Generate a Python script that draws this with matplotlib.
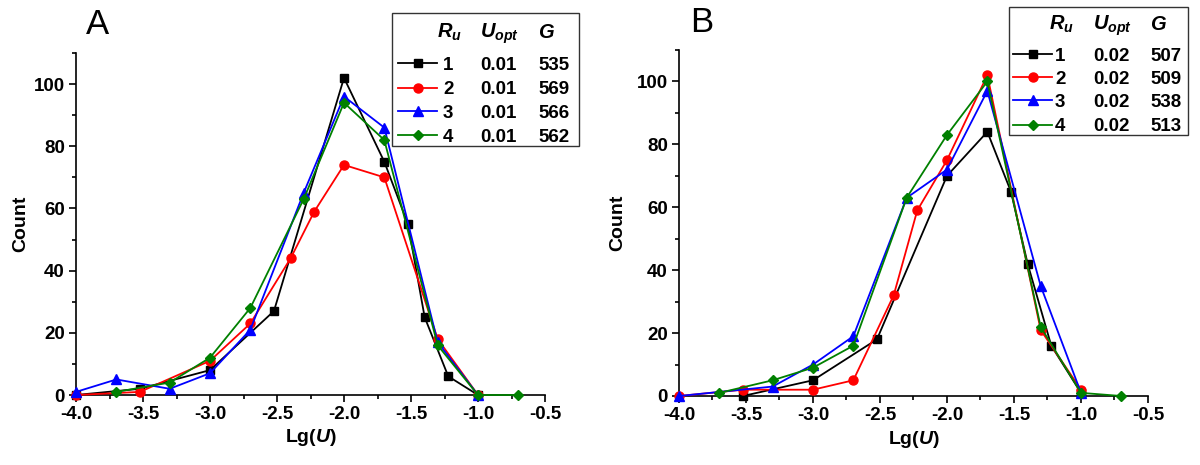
import numpy as np
import matplotlib
matplotlib.use('Agg')
import matplotlib.pyplot as plt
from matplotlib.lines import Line2D
from matplotlib.patches import Rectangle
from matplotlib.ticker import MultipleLocator

plt.rcParams['font.family'] = ['Liberation Sans', 'DejaVu Sans']
plt.rcParams['font.weight'] = 'bold'
plt.rcParams['axes.labelweight'] = 'bold'
plt.rcParams['mathtext.fontset'] = 'custom'
plt.rcParams['mathtext.it'] = 'Liberation Sans:italic:bold'
plt.rcParams['mathtext.rm'] = 'Liberation Sans:bold'
plt.rcParams['mathtext.bf'] = 'Liberation Sans:bold'

# panel A: U values and counts per run
a_u1 = [1e-4, 3e-4, 1e-3, 3e-3, 1e-2, 2e-2, 3e-2, 4e-2, 6e-2, 1e-1]
a_c1 = [0, 2, 8, 27, 102, 75, 55, 25, 6, 0]
a_u2 = [1e-4, 3e-4, 1e-3, 2e-3, 4e-3, 6e-3, 1e-2, 2e-2, 5e-2, 1e-1]
a_c2 = [0, 1, 11, 23, 44, 59, 74, 70, 18, 0]
a_u3 = [1e-4, 2e-4, 5e-4, 1e-3, 2e-3, 5e-3, 1e-2, 2e-2, 5e-2, 1e-1]
a_c3 = [1, 5, 2, 7, 21, 65, 96, 86, 17, 0]
a_u4 = [2e-4, 5e-4, 1e-3, 2e-3, 5e-3, 1e-2, 2e-2, 5e-2, 1e-1, 2e-1]
a_c4 = [1, 4, 12, 28, 63, 94, 82, 16, 0, 0]

# panel B
b_u1 = [3e-4, 1e-3, 3e-3, 1e-2, 2e-2, 3e-2, 4e-2, 6e-2, 1e-1]
b_c1 = [0, 5, 18, 70, 84, 65, 42, 16, 1]
b_u2 = [1e-4, 3e-4, 1e-3, 2e-3, 4e-3, 6e-3, 1e-2, 2e-2, 5e-2, 1e-1]
b_c2 = [0, 2, 2, 5, 32, 59, 75, 102, 21, 2]
b_u3 = [1e-4, 5e-4, 1e-3, 2e-3, 5e-3, 1e-2, 2e-2, 5e-2, 1e-1]
b_c3 = [0, 3, 10, 19, 63, 72, 97, 35, 1]
b_u4 = [2e-4, 5e-4, 1e-3, 2e-3, 5e-3, 1e-2, 2e-2, 5e-2, 1e-1, 2e-1]
b_c4 = [1, 5, 9, 16, 63, 83, 100, 22, 1, 0]

runs = ['1', '2', '3', '4']
a_uopt = ['0.01', '0.01', '0.01', '0.01']
a_g = ['535', '569', '566', '562']
b_uopt = ['0.02', '0.02', '0.02', '0.02']
b_g = ['507', '509', '538', '513']

colors = ['black', '#ff0000', '#0000ff', '#008000']
markers = ['s', 'o', '^', 'D']
msizes = [5.5, 6.5, 6.5, 5.5]

W, H = 1200, 465
fig = plt.figure(figsize=(W / 100, H / 100), dpi=100)


def fx(x):
    return x / W


def fy(y):
    return 1 - y / H


def setup(ax, ylab_x):
    ax.set_xlim(-4.0, -0.5)
    ax.set_ylim(0, 110)
    ax.spines['top'].set_visible(False)
    ax.spines['right'].set_visible(False)
    for s in ('left', 'bottom'):
        ax.spines[s].set_linewidth(1.2)
    ax.xaxis.set_major_locator(MultipleLocator(0.5))
    ax.xaxis.set_minor_locator(MultipleLocator(0.25))
    ax.yaxis.set_major_locator(MultipleLocator(20))
    ax.yaxis.set_minor_locator(MultipleLocator(10))
    ax.tick_params(which='major', direction='out', length=5, width=1.2, labelsize=13.5, pad=3)
    ax.tick_params(which='minor', direction='out', length=3, width=1.2)
    ax.xaxis.set_major_formatter(plt.FuncFormatter(lambda v, p: f'{v:.1f}'))
    ax.set_xlabel('Lg($U$)', fontsize=14, fontweight='bold')
    ax.set_ylabel('Count', fontsize=14, fontweight='bold')
    ax.xaxis.set_label_coords(0.5, -0.095)
    ax.yaxis.set_label_coords(ylab_x, 0.5)


def draw_key(box, hx, tx, head_y, rows_y, uopt, g):
    x0, y0, x1, y1 = box
    fig.add_artist(Rectangle((fx(x0), fy(y1)), fx(x1 - x0), (y1 - y0) / H,
                             transform=fig.transFigure, fill=False,
                             edgecolor='#333333', linewidth=1.0))
    fig.text(fx(tx[0] - 1), fy(head_y), '$R_u$', fontsize=14.5, va='baseline')
    fig.text(fx(tx[1]), fy(head_y), '$U_{opt}$', fontsize=14.5, va='baseline')
    fig.text(fx(tx[2]), fy(head_y), '$G$', fontsize=14.5, va='baseline')
    for i in range(4):
        yb = rows_y[i]
        ym = yb - 6.5
        fig.add_artist(Line2D([fx(hx[0]), fx((hx[0] + hx[1]) / 2), fx(hx[1])],
                              [fy(ym)] * 3, transform=fig.transFigure,
                              color=colors[i], lw=1.3, marker=markers[i],
                              markersize=msizes[i], markevery=[1]))
        fig.text(fx(tx[0] + 5), fy(yb), runs[i], fontsize=13.5, va='baseline')
        fig.text(fx(tx[1]), fy(yb), uopt[i], fontsize=13.5, va='baseline')
        fig.text(fx(tx[2]), fy(yb), g[i], fontsize=13.5, va='baseline')


axA = fig.add_axes([fx(76), fy(395), fx(545 - 76), (395 - 53) / H])
axB = fig.add_axes([fx(679), fy(396), fx(1148 - 679), (396 - 50) / H])

for ax, us, cs in ((axA, [a_u1, a_u2, a_u3, a_u4], [a_c1, a_c2, a_c3, a_c4]),
                   (axB, [b_u1, b_u2, b_u3, b_u4], [b_c1, b_c2, b_c3, b_c4])):
    for i in range(4):
        ax.plot(np.log10(us[i]), cs[i], color=colors[i], marker=markers[i],
                markersize=msizes[i], lw=1.3, clip_on=False, zorder=3 + i)

setup(axA, -0.099)
setup(axB, -0.112)

fig.text(fx(98), fy(25), 'A', fontsize=25, fontweight='normal', ha='center', va='center')
fig.text(fx(702), fy(22), 'B', fontsize=25, fontweight='normal', ha='center', va='center')

draw_key((392, 13, 579, 146), (398, 437), (438, 480, 538), 38, [70, 94, 118, 142], a_uopt, a_g)
draw_key((1009, 7, 1188, 135), (1013, 1052), (1050, 1093, 1150), 30, [61, 84, 107, 131], b_uopt, b_g)

fig.savefig('out.png', dpi=100)
